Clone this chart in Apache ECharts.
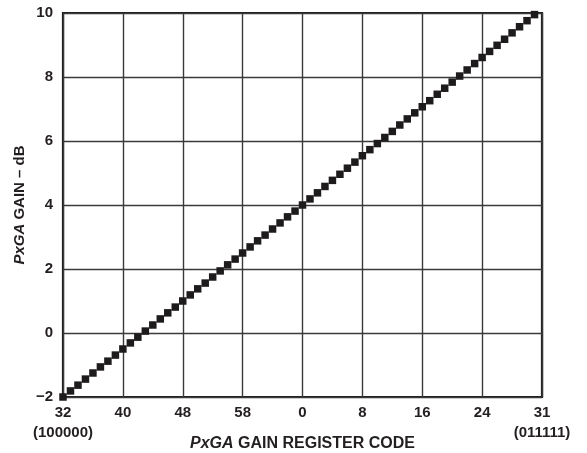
<!DOCTYPE html>
<html>
<head>
<meta charset="utf-8">
<script src="https://cdn.jsdelivr.net/npm/echarts@6/dist/echarts.min.js"></script>
<style>
html,body{margin:0;padding:0;background:#fff;}
#c{width:587px;height:453px;}
</style>
</head>
<body>
<div id="c"></div>
<script>
// Position of each code along the axis (0 = code 32 ... 63 = code 31)
var codePositions = [0,1,2,3,4,5,6,7,8,9,10,11,12,13,14,15,16,17,18,19,20,21,22,23,24,25,26,27,28,29,30,31,
  32,33,34,35,36,37,38,39,40,41,42,43,44,45,46,47,48,49,50,51,52,53,54,55,56,57,58,59,60,61,62,63];
// PxGA gain in dB
var gainDb = [-2.00,-1.81,-1.63,-1.44,-1.25,-1.06,-0.88,-0.69,-0.50,-0.31,-0.13,0.06,0.25,0.44,0.63,0.81,
  1.00,1.19,1.38,1.56,1.75,1.94,2.13,2.31,2.50,2.69,2.88,3.06,3.25,3.44,3.63,3.81,
  4.00,4.19,4.38,4.58,4.77,4.96,5.15,5.34,5.54,5.73,5.92,6.11,6.30,6.50,6.69,6.88,
  7.07,7.26,7.46,7.65,7.84,8.03,8.22,8.42,8.61,8.80,8.99,9.18,9.38,9.57,9.76,9.95];
// x tick labels at positions 0, 8, ..., 64
var xTickLabels = ['32\n(100000)','40','48','58','0','8','16','24','31\n(011111)'];
var yTicks = [-2,0,2,4,6,8,10];

var FONT = '"Liberation Sans", Arial, Helvetica, sans-serif';
var chart = echarts.init(document.getElementById('c'), null, {renderer:'canvas'});
var pts = codePositions.map(function(x,i){return [x, gainDb[i]];});

chart.setOption({
  animation:false,
  backgroundColor:'#fff',
  grid:{left:63,right:45,top:13,bottom:56,containLabel:false,outerBoundsMode:'none',
    show:true,borderColor:'#1e1b1c',borderWidth:2.2,backgroundColor:'transparent'},
  xAxis:{
    type:'value',min:0,max:64,interval:8,
    axisLine:{show:false},axisTick:{show:false},
    splitLine:{show:true,lineStyle:{color:'#3a3a3a',width:1.4}},
    axisLabel:{
      margin:6,fontFamily:FONT,fontWeight:'bold',fontSize:15,color:'#231f20',lineHeight:20,
      formatter:function(v){var k=Math.round(v/8);return xTickLabels[k]!==undefined?xTickLabels[k]:'';}
    },
    name:'{i|PxGA} GAIN REGISTER CODE',
    nameLocation:'middle',nameGap:39,nameMoveOverlap:false,
    nameTextStyle:{fontFamily:FONT,fontWeight:'bold',fontSize:16,color:'#231f20',
      rich:{i:{fontFamily:FONT,fontWeight:'bold',fontStyle:'italic',fontSize:16,color:'#231f20'}}}
  },
  yAxis:{
    type:'value',min:-2,max:10,interval:2,
    axisLine:{show:false},axisTick:{show:false},
    splitLine:{show:true,lineStyle:{color:'#3a3a3a',width:1.4}},
    axisLabel:{margin:10,fontFamily:FONT,fontWeight:'bold',fontSize:15,color:'#231f20',
      formatter:function(v){return v<0?'\u2212'+Math.abs(v):String(v);}},
    name:'{i|PxGA} GAIN \u2013 dB',
    nameLocation:'middle',nameGap:36,nameRotate:90,nameMoveOverlap:false,
    nameTextStyle:{fontFamily:FONT,fontWeight:'bold',fontSize:15,color:'#231f20',
      rich:{i:{fontFamily:FONT,fontWeight:'bold',fontStyle:'italic',fontSize:15,color:'#231f20'}}}
  },
  series:[{
    type:'scatter',data:pts,symbol:'rect',symbolSize:7.5,clip:false,
    itemStyle:{color:'#1e1b1c',opacity:1},z:5
  }]
});
</script>
</body>
</html>
